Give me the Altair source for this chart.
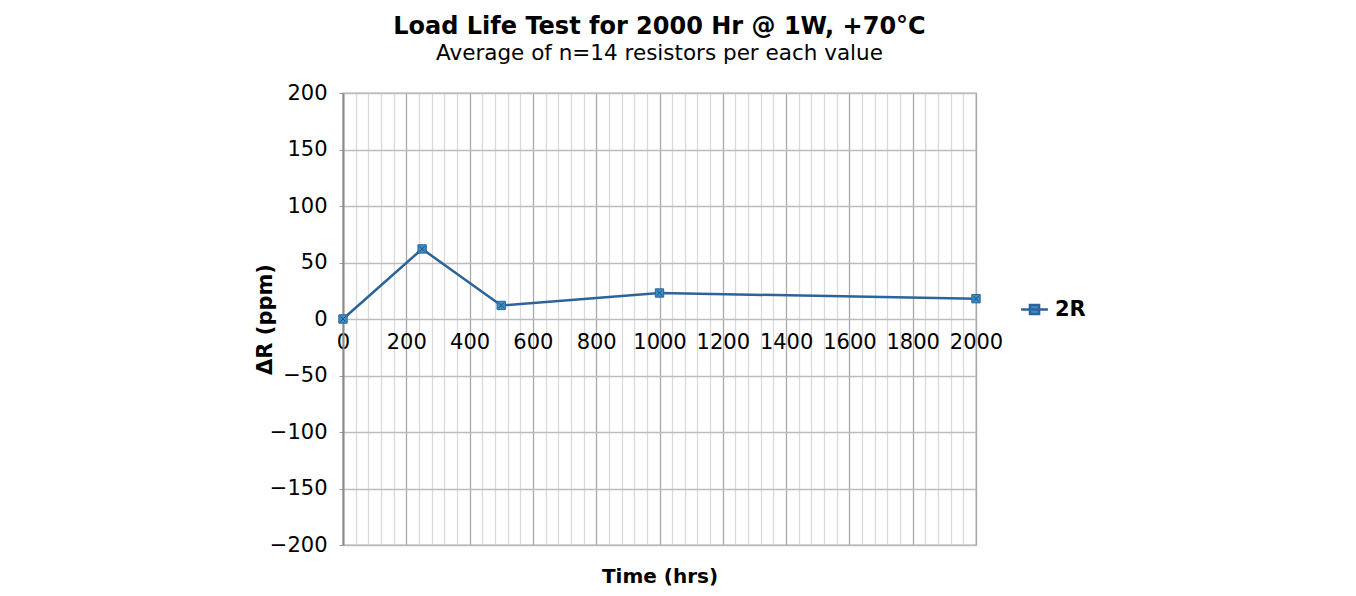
import altair as alt
import pandas as pd

# ---- data ----
hours = [0, 250, 500, 1000, 2000]
delta_r = [0, 62, 12, 23, 18]
series_name = "2R"

x_ticks = list(range(0, 2001, 40))
y_ticks = [-200, -150, -100, -50, 0, 50, 100, 150, 200]

df = pd.DataFrame({"hours": hours, "dR": delta_r, "series": [series_name] * len(hours)})

FONT = "DejaVu Sans"
LINE = "#2C639B"
FILL = "#3B8DC4"

x_enc = alt.X(
    "hours:Q",
    scale=alt.Scale(domain=[0, 2000], nice=False, zero=False),
    axis=alt.Axis(
        values=x_ticks,
        title="Time (hrs)",
        titleFont=FONT,
        titleFontSize=20,
        titleFontWeight="bold",
        titleColor="#000",
        titleY=263,
        titleBaseline="alphabetic",
        labelExpr="datum.value % 200 === 0 ? datum.label : ''",
        labelFont=FONT,
        labelFontSize=21,
        labelColor="#000",
        labelPadding=12,
        labelOverlap=False,
        labelFlush=False,
        offset=-226,
        domain=False,
        ticks=False,
        grid=True,
        gridColor={"condition": {"test": "datum.value % 200 === 0", "value": "#a9a9a9"}, "value": "#dadada"},
        gridWidth=1.3,
        format="d",
    ),
)

y_enc = alt.Y(
    "dR:Q",
    scale=alt.Scale(domain=[-200, 200], nice=False, zero=False),
    axis=alt.Axis(
        values=y_ticks,
        title="ΔR (ppm)",
        titleFont=FONT,
        titleFontSize=21,
        titleFontWeight="bold",
        titleColor="#000",
        titleX=-78,
        titleY=226,
        titleAngle=270,
        titleAlign="center",
        titleBaseline="middle",
        labelFont=FONT,
        labelFontSize=21,
        labelColor="#000",
        labelPadding=12,
        tickSize=4,
        tickColor="#999",
        domainColor="#8c8c8c",
        domainWidth=2,
        gridColor="#bdbdbd",
        gridWidth=1.3,
        format="d",
    ),
)

base = alt.Chart(df).encode(x=x_enc, y=y_enc)

line = base.mark_line(strokeWidth=2.5).encode(
    color=alt.Color(
        "series:N",
        scale=alt.Scale(range=[LINE]),
        legend=alt.Legend(
            title=None,
            orient="none",
            legendX=681,
            legendY=206,
            symbolType="M-2.5,0H2.5M-0.85,-0.85H0.85V0.85H-0.85Z",
            symbolSize=115,
            symbolStrokeWidth=2.5,
            symbolFillColor=FILL,
            symbolStrokeColor=LINE,
            labelFont=FONT,
            labelFontSize=21,
            labelFontWeight="bold",
            labelColor="#000",
            labelOffset=10,
        ),
    )
)

pts = base.mark_point(shape="square", filled=True, size=70, fill=FILL, stroke=LINE, strokeWidth=1, opacity=1)
crosses = base.mark_point(shape="M-1,-1L1,1M-1,1L1,-1", size=30, stroke="#1E5585", strokeWidth=1, opacity=1, filled=False)

chart = (
    alt.layer(line, pts, crosses)
    .properties(
        width=633,
        height=452,
        autosize=alt.AutoSizeParams(type="none"),
        padding={"left": 335, "top": 85, "right": 372, "bottom": 43},
        title=alt.TitleParams(
            text="Load Life Test for 2000 Hr @ 1W, +70°C",
            subtitle="Average of n=14 resistors per each value",
            font=FONT,
            fontSize=24,
            fontWeight="bold",
            color="#000",
            subtitleFont=FONT,
            subtitleFontSize=21.5,
            subtitleColor="#000",
            subtitlePadding=4,
            anchor="middle",
            frame="group",
            offset=18,
        ),
        background="white",
    )
    .configure_view(stroke="#b0b0b0", strokeWidth=1.3)
)

chart.save("out.html", embed_options={"renderer": "svg", "actions": False})
